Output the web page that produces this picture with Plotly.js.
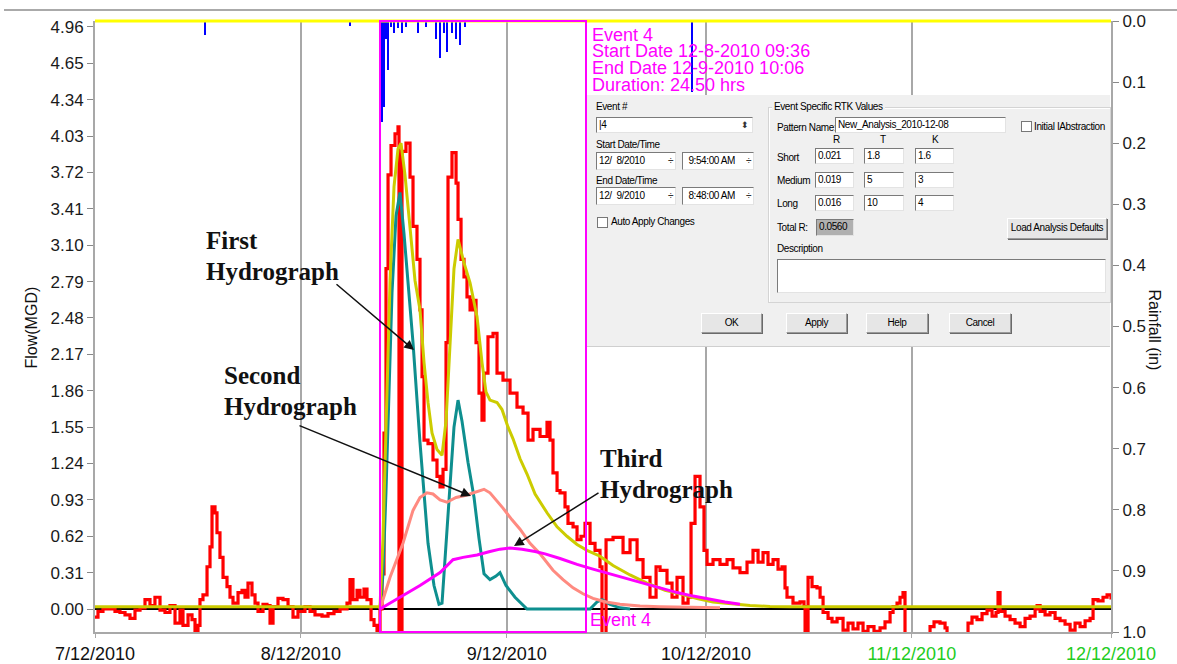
<!DOCTYPE html>
<html><head><meta charset="utf-8">
<script src="https://cdn.plot.ly/plotly-3.0.1.min.js"></script>
<style>
html,body{margin:0;padding:0;background:#fff;overflow:hidden;}
#chart{position:absolute;left:0;top:0;width:1177px;height:664px;}
#dlg{position:absolute;left:587px;top:95px;width:523px;height:251px;background:#f0f0f0;font-family:"Liberation Sans",Arial,sans-serif;font-size:10px;letter-spacing:-0.4px;color:#000;border-bottom:1px solid #cfcfcf;}
.a{position:absolute;white-space:nowrap;line-height:12px;}
.box{position:absolute;background:#fff;border:1px solid #7a7a7a;border-right-color:#e3e3e3;border-bottom-color:#e3e3e3;box-sizing:border-box;padding:1px 2px;line-height:12px;white-space:nowrap;}
.btn{position:absolute;background:#e6e6e6;border:1px solid #9a9a9a;border-top-color:#fff;border-left-color:#fff;box-shadow:1px 1px 0 #6a6a6a;box-sizing:border-box;text-align:center;line-height:17px;white-space:nowrap;}
.spin{position:absolute;right:2px;top:1px;font-size:10px;line-height:12px;color:#333;}
.chk{position:absolute;width:11px;height:11px;background:#fff;border:1px solid #777;box-sizing:border-box;}
.grp{position:absolute;border:1px solid #d4d4d4;box-shadow:inset 1px 1px 0 #fff;}
</style>
</head><body>
<div id="chart"></div>
<div id="dlg">
  <div class="a" style="left:9px;top:6px;">Event #</div>
  <div class="box" style="left:9px;top:22px;width:157px;height:16px;">|4<span class="spin" style="right:3px;font-size:9px;">&#x2B0D;</span></div>
  <div class="a" style="left:9px;top:44px;">Start Date/Time</div>
  <div class="box" style="left:9px;top:57px;width:80px;height:18px;padding-top:2px;">12/&nbsp; 8/2010<span class="spin" style="top:2px;">&divide;</span></div>
  <div class="box" style="left:95px;top:57px;width:72px;height:18px;padding-top:2px;text-align:right;padding-right:18px;">9:54:00 AM<span class="spin" style="top:2px;">&divide;</span></div>
  <div class="a" style="left:9px;top:80px;">End Date/Time</div>
  <div class="box" style="left:9px;top:92px;width:80px;height:18px;padding-top:2px;">12/&nbsp; 9/2010<span class="spin" style="top:2px;">&divide;</span></div>
  <div class="box" style="left:95px;top:92px;width:72px;height:18px;padding-top:2px;text-align:right;padding-right:18px;">8:48:00 AM<span class="spin" style="top:2px;">&divide;</span></div>
  <div class="chk" style="left:10px;top:122px;"></div>
  <div class="a" style="left:24px;top:121px;">Auto Apply Changes</div>

  <div class="grp" style="left:181px;top:12px;width:341px;height:194px;"></div>
  <div class="a" style="left:185px;top:6px;background:#f0f0f0;padding:0 2px;">Event Specific RTK Values</div>
  <div class="a" style="left:190px;top:27px;">Pattern Name:</div>
  <div class="box" style="left:248px;top:22px;width:171px;height:16px;">New_Analysis_2010-12-08</div>
  <div class="chk" style="left:434px;top:26px;"></div>
  <div class="a" style="left:447px;top:26px;">Initial IAbstraction</div>
  <div class="a" style="left:246px;top:39px;">R</div>
  <div class="a" style="left:293px;top:39px;">T</div>
  <div class="a" style="left:345px;top:39px;">K</div>
  <div class="a" style="left:190px;top:57px;">Short</div>
  <div class="a" style="left:190px;top:80px;">Medium</div>
  <div class="a" style="left:190px;top:103px;">Long</div>
  <div class="box" style="left:228px;top:53px;width:39px;height:16px;">0.021</div>
  <div class="box" style="left:277px;top:53px;width:40px;height:16px;">1.8</div>
  <div class="box" style="left:328px;top:53px;width:39px;height:16px;">1.6</div>
  <div class="box" style="left:228px;top:77px;width:39px;height:16px;">0.019</div>
  <div class="box" style="left:277px;top:77px;width:40px;height:16px;">5</div>
  <div class="box" style="left:328px;top:77px;width:39px;height:16px;">3</div>
  <div class="box" style="left:228px;top:100px;width:39px;height:16px;">0.016</div>
  <div class="box" style="left:277px;top:100px;width:40px;height:16px;">10</div>
  <div class="box" style="left:328px;top:100px;width:39px;height:16px;">4</div>
  <div class="a" style="left:190px;top:127px;">Total R:</div>
  <div class="box" style="left:229px;top:124px;width:38px;height:17px;background:#b0b0b0;">0.0560</div>
  <div class="btn" style="left:420px;top:123px;width:100px;height:21px;">Load Analysis Defaults</div>
  <div class="a" style="left:190px;top:148px;">Description</div>
  <div class="box" style="left:190px;top:164px;width:329px;height:34px;"></div>
  <div class="btn" style="left:114px;top:218px;width:61px;height:20px;">OK</div>
  <div class="btn" style="left:199px;top:218px;width:61px;height:20px;">Apply</div>
  <div class="btn" style="left:279px;top:218px;width:62px;height:20px;">Help</div>
  <div class="btn" style="left:362px;top:218px;width:62px;height:20px;">Cancel</div>
</div>
<script>
// ---- DATA (x values are days since 7/12/2010) ----
const redDay = [0,0.45,1.20,2.26,3.01,3.76,4.52,5.27,6.02,6.78,7.53,8.28,9.03,9.79,10.54,11.29,12.05,12.80,13.25,14.01,14.61,15.06,15.51,15.81,16.26,16.87,17.32,17.62,18.07,18.37,18.82,19.28,19.88,20.33,20.78,21.54,22.14,22.59,23.04,23.64,24.10,24.55,25.30,25.90,26.36,26.81,27.56,28.31,29.07,29.82,30.57,31.62,32.38,33.13,34.19,35.09,35.99,36.90,37.95,38.40,38.85,39.46,39.91,40.51,40.96,41.57,42.02,42.47,42.92,43.22,43.52,43.82,44.13,44.58,45.18,45.63,45.78,46.08,46.23,46.83,47.44,47.89,48.49,48.94,49.25,49.55,50.15,50.90,51.50,51.96,52.41,52.86,53.16,53.76,54.37,54.67,55.12,55.57,56.02,56.48,56.93,57.38,57.83,58.28,58.58,59.18,59.94,60.54,61.44,62.50,63.55,64.46,65.21,65.96,67.02,68.07,68.52,68.97,69.58,70.03,70.78,71.23,71.99,72.59,73.19,73.79,74.55,75.30,76.05,76.35,76.65,76.96,78.01,78.61,79.52,80.57,81.63,82.53,83.58,84.49,85.09,86.14,86.90,87.65,88.55,89.31,89.76,90.36,91.11,91.71,92.17,93.07,94.12,95.18,96.08,97.13,98.19,99.09,99.85,100.60,101.35,102.11,102.86,103.46,103.91,104.21,105.11,106.17,106.77,106.93,107.23,107.38,107.98,108.73,109.19,109.64,110.39,110.99,111.75,112.65,113.40,114.15,114.90,115.66,116.41,117.31,118.22,118.97,119.73,120.18,120.78,121.23,121.68,121.98,123.49,124.99,125.75,126.35,127.25,128.01,128.31,131.02,131.47,132.07,132.82,133.58,134.33,135.09,135.69,135.99,136.29,137.05,137.80,138.55,139.31,140.06,140.81,141.57,141.87,142.32,143.07,143.82,144.58,145.33,146.08,146.84,147.59,148.34,149.10,149.85,150.30,151.05,151.80,152.41,153.0];
const redFlow = [-0.07,-0.02,0.0,0.0,-0.02,-0.03,-0.05,-0.08,-0.01,0.01,0.08,0.03,0.10,-0.01,-0.03,0.03,-0.12,-0.01,-0.14,-0.05,-0.09,-0.19,-0.14,0.08,0.12,0.36,0.53,0.87,0.82,0.65,0.44,0.27,0.19,0.10,0.05,0.14,0.16,0.10,0.22,0.12,0.05,-0.02,0.04,0.03,-0.12,0.02,0.09,0.08,0.02,-0.07,-0.02,0.02,-0.02,-0.05,-0.06,-0.04,-0.02,0.0,0.05,0.25,0.08,0.16,0.10,0.17,0.08,-0.09,-0.14,-0.19,0.0,0.3,1.5,2.9,3.7,3.95,4.05,4.11,-0.25,-0.25,3.9,3.97,3.68,3.26,2.98,2.55,1.98,1.44,1.41,1.27,1.13,1.04,1.19,2.27,3.68,3.89,3.63,3.32,2.98,2.83,2.66,2.55,2.63,2.27,1.84,1.61,2.01,2.32,2.35,2.01,1.95,1.84,1.72,1.67,1.44,1.53,1.47,1.59,1.44,1.16,1.01,0.99,0.87,0.73,0.70,0.59,0.62,0.73,0.56,0.50,0.36,-0.25,-0.25,0.59,0.61,0.61,0.48,0.59,0.42,0.27,0.10,0.36,0.33,0.22,0.10,0.27,0.05,0.10,0.73,1.13,0.87,0.50,0.38,0.42,0.38,0.42,0.35,0.31,0.40,0.50,0.40,0.48,0.38,0.42,0.34,0.36,0.18,0.10,0.05,0.06,0.02,-0.25,-0.25,0.27,0.19,0.18,0.10,-0.03,-0.08,-0.11,-0.08,-0.18,-0.12,-0.17,-0.12,-0.19,-0.15,-0.19,-0.16,-0.11,-0.03,0.02,0.05,0.10,0.14,-0.25,-0.25,-0.22,-0.15,-0.11,-0.12,-0.16,-0.25,-0.25,-0.12,-0.07,-0.09,-0.04,-0.01,-0.06,-0.03,0.14,-0.02,-0.06,-0.09,-0.12,-0.15,-0.08,-0.06,0.0,0.03,-0.02,-0.05,-0.03,-0.08,-0.10,-0.13,-0.18,-0.12,-0.15,-0.10,-0.08,0.08,0.07,0.10,0.12,0.08];

const totalDay = [0,42.92,43.37,43.82,44.43,45.03,45.63,46.08,46.68,47.44,48.19,48.94,49.55,50.15,50.75,51.50,52.26,52.86,53.46,54.06,54.67,55.57,56.48,57.53,58.28,58.88,59.48,60.54,61.29,62.20,62.95,64.01,65.06,66.27,68.07,69.58,71.08,72.59,74.09,76.05,78.01,80.57,83.13,85.84,88.10,90.66,93.07,95.63,98.64,101.65,104.67,153.0];
const totalFlow = [0.02,0.02,0.6,1.6,2.8,3.6,3.92,3.97,3.7,3.25,2.8,2.55,2.1,1.76,1.5,1.36,1.31,1.6,2.3,2.9,3.15,2.95,2.78,2.49,2.1,1.85,1.78,1.76,1.70,1.55,1.45,1.28,1.15,0.98,0.82,0.70,0.62,0.55,0.50,0.45,0.37,0.29,0.22,0.16,0.13,0.09,0.06,0.045,0.03,0.022,0.02,0.02];

const firstDay = [42.92,43.37,43.82,44.28,44.73,45.33,45.93,46.53,47.14,47.89,48.94,50.15,51.05,51.80,52.26,52.86,53.46,54.06,54.67,55.27,56.17,57.08,57.83,58.58,59.48,60.39,60.99,61.89,63.25,65.06,74.55,75.60,76.35,77.56,79.06,80.57];
const firstFlow = [0,0.3,1.0,1.9,2.7,3.35,3.55,3.2,2.8,2.27,1.42,0.56,0.2,0.04,0.05,0.55,1.13,1.55,1.78,1.6,1.25,0.95,0.6,0.3,0.25,0.28,0.31,0.2,0.1,0.0,0.0,0.06,0.08,0.04,0.01,0.0];

const secondDay = [42.92,44.43,46.38,47.89,48.94,49.99,50.90,51.96,53.01,54.37,55.87,57.38,58.58,59.48,60.54,61.44,62.80,64.01,65.51,67.02,68.97,70.48,71.99,73.49,74.99,76.96,79.06,82.08,85.09,91.11,94.12];
const secondFlow = [0,0.27,0.56,0.84,0.95,0.99,0.98,0.93,0.91,0.95,0.97,1.0,1.02,0.99,0.92,0.86,0.76,0.68,0.56,0.47,0.33,0.25,0.18,0.13,0.09,0.06,0.04,0.025,0.02,0.015,0.01];

const thirdDay = [42.92,45.93,48.94,51.96,53.91,55.42,57.53,59.48,60.99,62.50,64.31,66.27,67.77,70.03,72.59,74.99,77.56,80.12,82.53,85.09,87.65,90.06,92.62,94.87,97.13];
const thirdFlow = [0,0.1,0.2,0.31,0.42,0.44,0.46,0.49,0.51,0.52,0.51,0.49,0.47,0.43,0.38,0.34,0.30,0.26,0.22,0.18,0.14,0.11,0.08,0.06,0.04];

const rainDay = [16.56,38.40,43.22,43.52,43.82,44.13,44.58,45.03,45.63,46.23,46.83,48.64,49.85,51.35,51.96,52.56,53.01,53.76,54.37,54.97,55.72,89.91];
const rainIn  = [0.023,0.008,0.165,0.14,0.03,0.08,0.01,0.02,0.012,0.02,0.01,0.02,0.01,0.03,0.06,0.02,0.05,0.02,0.03,0.04,0.01,0.116];

const eventStartDay = 42.92, eventEndDay = 73.94;
const flowTicks = [0,0.31,0.62,0.93,1.24,1.55,1.86,2.17,2.48,2.79,3.10,3.41,3.72,4.03,4.34,4.65,4.96];
const rainTicks = [0,0.1,0.2,0.3,0.4,0.5,0.6,0.7,0.8,0.9,1.0];
const xTickDates = ['2010-07-12','2010-08-12','2010-09-12','2010-10-12','2010-11-12','2010-12-12'];
const xTickLabels = ['7/12/2010','8/12/2010','9/12/2010','10/12/2010','11/12/2010','12/12/2010'];
const xTickColors = ['#111','#111','#111','#111','#22cc22','#22cc22'];
const eventLines = ['Event 4','Start Date 12-8-2010 09:36','End Date 12-9-2010 10:06','Duration: 24.50 hrs'];

// ---- helpers ----
const BASE = Date.UTC(2010,6,12);
function toDate(d){ return new Date(BASE + d*864e5).toISOString().replace('T',' ').slice(0,19); }
const D = a => a.map(toDate);
// plot box in px: left 95, right 1111, top 21, bottom 632
const PL=95, PR=1111, PT=21, PB=632;
const px = x => (x-PL)/(PR-PL);
const py = y => (PB-y)/(PB-PT);

const traces = [
  {x:D(rainDay), y:rainIn, type:'bar', yaxis:'y2', marker:{color:'#0000ff', line:{width:0}}, width:0.3*864e5, hoverinfo:'skip'},
  {x:D(redDay), y:redFlow, type:'scatter', mode:'lines', line:{color:'#ff0000', width:3.2, shape:'hv'}},
  {x:D(firstDay), y:firstFlow, type:'scatter', mode:'lines', line:{color:'#0e8f8f', width:3}},
  {x:D(totalDay), y:totalFlow, type:'scatter', mode:'lines', line:{color:'#cccc00', width:3}},
  {x:D(secondDay), y:secondFlow, type:'scatter', mode:'lines', line:{color:'#ff8a80', width:3}},
  {x:D(thirdDay), y:thirdFlow, type:'scatter', mode:'lines', line:{color:'#ff00ff', width:3}}
];

const ser = '"Liberation Serif","Times New Roman",serif';
const annotations = [];
const evY = [35,51,68,85];
eventLines.forEach((t,i)=>annotations.push({xref:'paper',yref:'paper',x:px(590),y:py(evY[i]),xanchor:'left',yanchor:'middle',text:t,showarrow:false,font:{size:18,color:'#ff00ff'}}));
annotations.push({xref:'paper',yref:'paper',x:px(588),y:py(620),xanchor:'left',yanchor:'middle',text:'Event 4',showarrow:false,font:{size:18,color:'#ff00ff'}});
function lbl(t,x,y){annotations.push({xref:'paper',yref:'paper',x:px(x),y:py(y),xanchor:'left',yanchor:'middle',text:'<b>'+t+'</b>',showarrow:false,font:{family:ser,size:25,color:'#111'}});}
lbl('First',204,240); lbl('Hydrograph',204,271);
lbl('Second',222,375); lbl('Hydrograph',222,407);
lbl('Third',598,458); lbl('Hydrograph',598,489);
function arr(tx,ty,hx,hy){annotations.push({xref:'paper',yref:'paper',x:px(hx),y:py(hy),ax:tx-hx,ay:ty-hy,text:'',showarrow:true,arrowhead:2,arrowsize:1.3,arrowwidth:1.5,arrowcolor:'#111',standoff:0,startstandoff:0});}
arr(335,283,414,350);
arr(298,425,471,496);
arr(600,492,514,546);
annotations.push({xref:'paper',yref:'paper',x:px(20),y:py(328),text:'Flow(MGD)',textangle:-90,showarrow:false,font:{size:16,color:'#111'}});
annotations.push({xref:'paper',yref:'paper',x:px(1165),y:py(330),text:'Rainfall (in)',textangle:90,showarrow:false,font:{size:16,color:'#111'}});

const shapes = [
  {type:'line',xref:'paper',yref:'paper',x0:px(4),x1:px(1177),y0:py(10),y1:py(10),line:{color:'#aaaaaa',width:2}},
  {type:'line',xref:'paper',yref:'paper',x0:0,x1:1,y0:1,y1:1,line:{color:'#ffff00',width:3}},
  {type:'rect',xref:'x',yref:'paper',x0:toDate(eventStartDay),x1:toDate(eventEndDay),y0:0,y1:1,line:{color:'#ff00ff',width:2}}
];

const layout = {
  width:1177, height:664, margin:{l:95,r:66,t:21,b:32},
  paper_bgcolor:'#fff', plot_bgcolor:'#fff', showlegend:false, bargap:0,
  font:{family:'"Liberation Sans", Arial, sans-serif', size:16, color:'#1a1a1a'},
  xaxis:{type:'date', range:[toDate(0),toDate(153)], tickmode:'array', tickvals:xTickDates,
    ticktext:xTickLabels.map((t,i)=>'<span style="color:'+xTickColors[i]+'">'+t+'</span>'),
    showgrid:true, gridcolor:'#a8a8a8', gridwidth:2, showline:true, linecolor:'#a8a8a8', linewidth:2,
    ticks:'outside', ticklen:4, tickcolor:'#a8a8a8', tickfont:{size:18}, zeroline:false, fixedrange:true},
  yaxis:{range:[-0.196,5.011], tickmode:'array', tickvals:flowTicks, ticktext:flowTicks.map(v=>v.toFixed(2)),
    showgrid:false, zeroline:true, zerolinecolor:'#000', zerolinewidth:2, showline:true, linecolor:'#a8a8a8', linewidth:2,
    ticks:'outside', ticklen:6, tickcolor:'#888', tickfont:{size:17}, fixedrange:true},
  yaxis2:{overlaying:'y', anchor:'x', side:'right', range:[1,0], tickmode:'array', tickvals:rainTicks, ticktext:rainTicks.map(v=>v.toFixed(1)),
    showgrid:false, zeroline:false, showline:true, linecolor:'#a8a8a8', linewidth:2,
    ticks:'outside', ticklen:6, tickcolor:'#888', tickfont:{size:17}, fixedrange:true},
  shapes:shapes, annotations:annotations
};
Plotly.newPlot('chart', traces, layout, {displayModeBar:false, staticPlot:true});
</script>
</body></html>
